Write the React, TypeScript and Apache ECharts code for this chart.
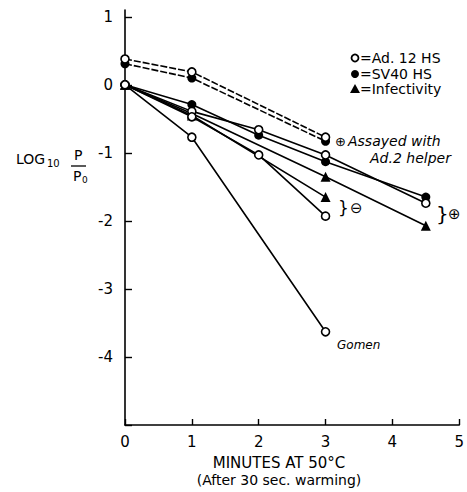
import React, { useEffect, useRef } from "react";
import * as echarts from "echarts";

// Time points (minutes at 50°C)
const ad12HsX = [0, 1, 3];
const ad12HsY = [0.38, 0.19, -0.77];
const sv40HsX = [0, 1, 3];
const sv40HsY = [0.31, 0.1, -0.83];

const ad12PlusX = [0, 1, 2, 3, 4.5];
const ad12PlusY = [0, -0.39, -0.66, -1.03, -1.74];
const sv40PlusX = [0, 1, 2, 3, 4.5];
const sv40PlusY = [0, -0.29, -0.74, -1.13, -1.65];
const infPlusX = [0, 1, 3, 4.5];
const infPlusY = [0, -0.42, -1.35, -2.07];

const ad12MinusX = [0, 1, 2, 3];
const ad12MinusY = [0, -0.47, -1.03, -1.93];
const infMinusX = [0, 1, 3];
const infMinusY = [0, -0.45, -1.65];

const gomenX = [0, 1, 3];
const gomenY = [0, -0.77, -3.63];

const xTicks = [0, 1, 2, 3, 4, 5];
const yTicks = [1, 0, -1, -2, -3, -4];

const FONT = "DejaVu Sans";

function pts(xs: number[], ys: number[]) {
  return xs.map((x, i) => [x, ys[i]]);
}

type Kind = "open" | "filled" | "tri";

function mk(name: string, xs: number[], ys: number[], kind: Kind, dashed = false) {
  return {
    name,
    type: "line",
    data: pts(xs, ys),
    symbol: kind === "tri" ? "triangle" : "circle",
    symbolSize: kind === "open" ? 8 : kind === "tri" ? 10 : 9,
    lineStyle: { color: "#000", width: 1.6, type: dashed ? [7, 2] : "solid" },
    itemStyle: {
      color: kind === "open" ? "#fff" : "#000",
      borderColor: "#000",
      borderWidth: kind === "open" ? 1.6 : 0,
    },
    z: kind === "open" ? 3 : 2,
    silent: true,
  };
}

export default function App() {
  const ref = useRef<HTMLDivElement>(null);
  useEffect(() => {
    if (!ref.current) return;
    const chart = echarts.init(ref.current, undefined, { renderer: "svg" });
    const txt = (x: number, y: number, text: string, size = 13, extra: any = {}) => ({
      type: "text",
      x,
      y,
      style: {
        text,
        fontFamily: FONT,
        fontSize: size,
        fill: "#000",
        textVerticalAlign: "middle",
        ...extra,
      },
    });
    chart.setOption({
      animation: false,
      backgroundColor: "#fff",
      grid: { left: 125, right: 2, top: 10, bottom: 67, containLabel: false },
      xAxis: {
        type: "value",
        min: 0,
        max: 5,
        interval: 1,
        splitLine: { show: false },
        axisLine: { onZero: false, lineStyle: { color: "#000", width: 1.6 } },
        axisTick: { inside: true, length: 6, lineStyle: { color: "#000", width: 1.4 } },
        axisLabel: {
          color: "#000",
          fontFamily: FONT,
          fontSize: 15,
          margin: 9,
          formatter: (v: number) => (xTicks.includes(v) ? String(v) : ""),
        },
      },
      yAxis: {
        type: "value",
        min: -5,
        max: 1.1,
        interval: 1,
        splitLine: { show: false },
        axisLine: { onZero: false, lineStyle: { color: "#000", width: 1.6 } },
        axisTick: { inside: true, length: 7, lineStyle: { color: "#000", width: 1.4 } },
        axisLabel: {
          color: "#000",
          fontFamily: FONT,
          fontSize: 15,
          margin: 12,
          showMaxLabel: false,
          formatter: (v: number) => (yTicks.includes(v) ? String(v) : ""),
        },
      },
      series: [
        mk("Ad.12 HS", ad12HsX, ad12HsY, "open", true),
        mk("SV40 HS", sv40HsX, sv40HsY, "filled", true),
        mk("Ad.12 +", ad12PlusX, ad12PlusY, "open"),
        mk("SV40 +", sv40PlusX, sv40PlusY, "filled"),
        mk("Infectivity +", infPlusX, infPlusY, "tri"),
        mk("Ad.12 -", ad12MinusX, ad12MinusY, "open"),
        mk("Infectivity -", infMinusX, infMinusY, "tri"),
        mk("Gomen", gomenX, gomenY, "open"),
      ],
      graphic: [
        // legend
        { type: "circle", shape: { cx: 355, cy: 58, r: 3.5 }, style: { fill: "#fff", stroke: "#000", lineWidth: 1.8 } },
        txt(360, 58, "=Ad. 12 HS", 14),
        { type: "circle", shape: { cx: 355, cy: 74, r: 4 }, style: { fill: "#000" } },
        txt(360, 74, "=SV40 HS", 14),
        { type: "polygon", shape: { points: [[355, 84], [350, 93], [360, 93]] }, style: { fill: "#000" } },
        txt(360, 89, "=Infectivity", 14),
        // annotations
        txt(335, 141, "⊕", 13),
        txt(348, 141, "Assayed with", 14, { fontStyle: "italic" }),
        txt(370, 158, "Ad.2 helper", 14, { fontStyle: "italic" }),
        txt(338, 208, "}", 17),
        txt(350, 208, "⊖", 15),
        txt(436, 214, "}", 20),
        txt(448, 214, "⊕", 15),
        txt(337, 345, "Gomen", 12, { fontStyle: "italic" }),
        // y axis title
        txt(16, 159, "LOG", 14),
        txt(47, 163, "10", 10),
        txt(74, 155, "P", 14),
        { type: "line", shape: { x1: 71, y1: 166, x2: 86, y2: 166 }, style: { stroke: "#000", lineWidth: 1.3 } },
        txt(73, 176, "P", 14),
        txt(82, 180, "0", 9),
        // x axis title
        txt(279, 463, "MINUTES AT 50°C", 15, { textAlign: "center" }),
        txt(279, 480, "(After 30 sec. warming)", 14, { textAlign: "center" }),
      ],
    });
    return () => chart.dispose();
  }, []);
  return <div ref={ref} style={{ width: 467, height: 492, position: "absolute", left: 0, top: 0 }} />;
}
